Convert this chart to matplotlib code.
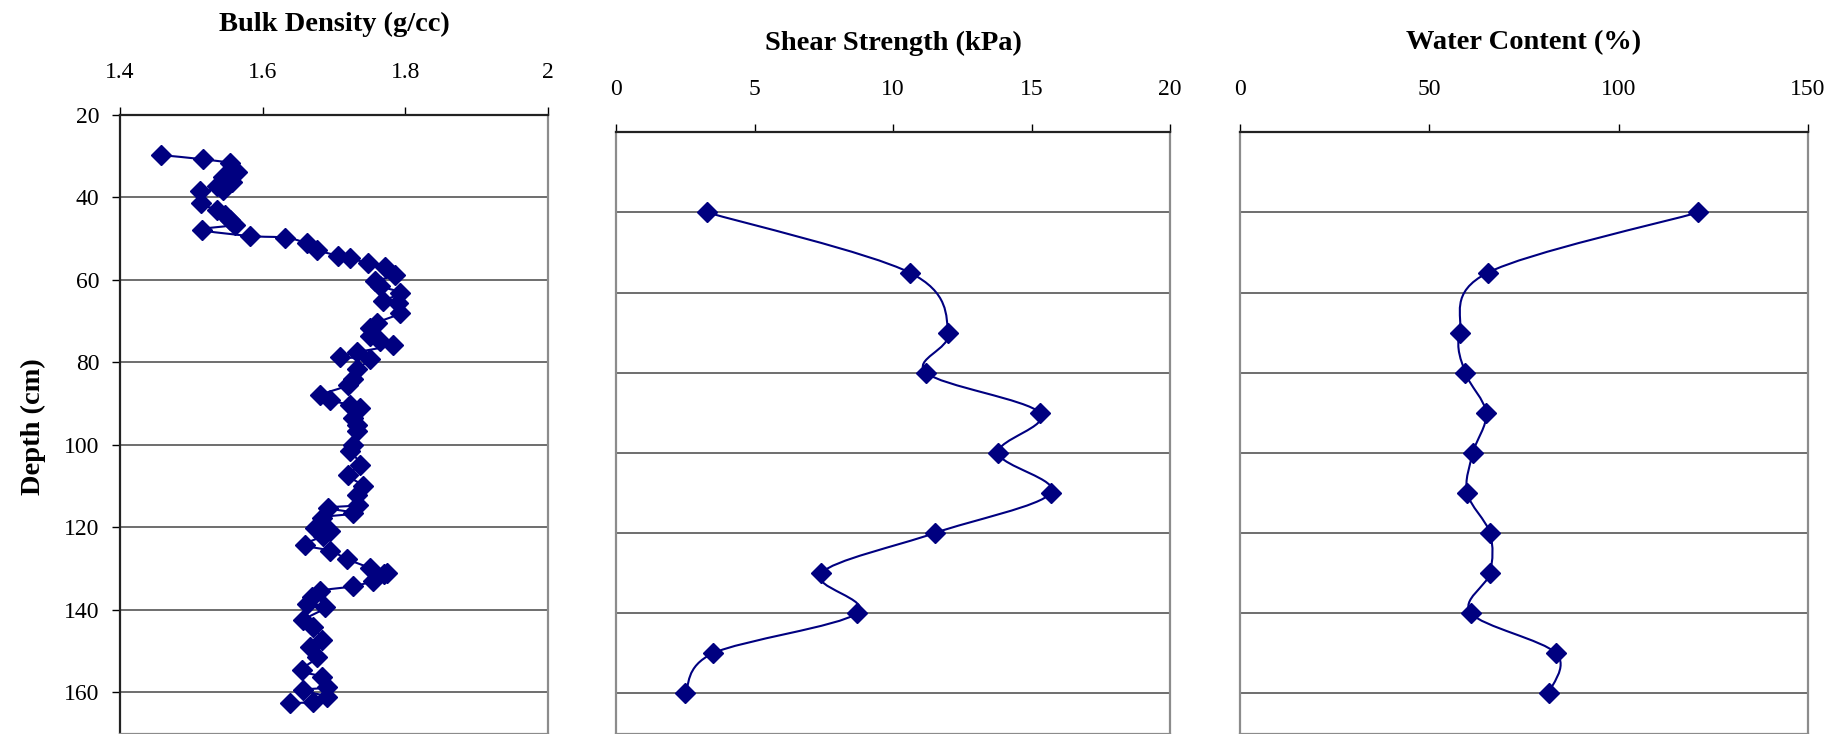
import numpy as np
import matplotlib
matplotlib.use('Agg')
import matplotlib.pyplot as plt
from matplotlib.path import Path
from matplotlib.patches import PathPatch

# bulk density profile (g/cc) vs depth (cm)
bd_depth = [29.8, 30.8, 31.8, 33.8, 35.0, 36.2, 37.4, 38.2, 38.6, 41.5,
            43.1, 44.3, 45.5, 46.7, 47.9, 49.4, 49.8, 51.2, 52.8, 54.2,
            54.8, 56.0, 57.0, 58.8, 60.4, 61.6, 63.2, 65.2, 65.6, 68.0,
            70.4, 71.6, 73.6, 74.8, 75.8, 77.6, 78.8, 79.2, 81.6, 84.0,
            85.6, 88.0, 89.2, 90.4, 91.2, 93.6, 95.2, 96.7, 100.0, 101.6,
            104.8, 107.3, 110.1, 112.1, 114.5, 115.3, 116.6, 117.7, 120.1, 120.9,
            122.1, 124.3, 125.7, 127.7, 129.8, 131.0, 131.4, 133.0, 134.3, 135.4,
            137.0, 138.6, 139.4, 142.6, 144.2, 147.4, 149.0, 151.5, 154.7, 156.3,
            158.7, 159.5, 161.1, 162.3, 162.7]
bd_value = [1.458, 1.516, 1.554, 1.564, 1.545, 1.557, 1.536, 1.545, 1.512, 1.514,
            1.536, 1.547, 1.554, 1.561, 1.515, 1.582, 1.632, 1.662, 1.676, 1.706,
            1.722, 1.748, 1.772, 1.786, 1.758, 1.765, 1.792, 1.769, 1.790, 1.793,
            1.760, 1.750, 1.750, 1.765, 1.783, 1.732, 1.709, 1.750, 1.732, 1.727,
            1.720, 1.681, 1.695, 1.723, 1.737, 1.727, 1.732, 1.732, 1.727, 1.723,
            1.737, 1.720, 1.741, 1.732, 1.734, 1.692, 1.727, 1.683, 1.674, 1.695,
            1.685, 1.660, 1.695, 1.718, 1.750, 1.774, 1.770, 1.755, 1.727, 1.681,
            1.669, 1.662, 1.688, 1.657, 1.671, 1.683, 1.666, 1.676, 1.655, 1.683,
            1.690, 1.657, 1.690, 1.671, 1.638]

# shear strength and water content, sampled every ~10 cm
lab_depth = [40, 55, 70, 80, 90, 100, 110, 120, 130, 140, 150, 160]
shear_kpa = [3.3, 10.6, 12.0, 11.2, 15.3, 13.8, 15.7, 11.5, 7.4, 8.7, 3.5, 2.5]
water_pct = [121, 65.5, 58, 59.5, 65, 61.5, 60, 66, 66, 61, 83.5, 81.5]

depth_ticks = [20, 40, 60, 80, 100, 120, 140, 160]
bd_ticks = [1.4, 1.6, 1.8, 2.0]
bd_labels = ['1.4', '1.6', '1.8', '2']
shear_ticks = [0, 5, 10, 15, 20]
water_ticks = [0, 50, 100, 150]

NAVY = '#000080'
plt.rcParams['font.family'] = ['Liberation Serif', 'DejaVu Serif']

W, H = 1848.0, 734.0


def smooth_path(x, y):
    # smoothed line like a spreadsheet chart: catmull-rom segments as cubic beziers
    pts = np.column_stack([x, y]).astype(float)
    verts = [pts[0]]
    codes = [Path.MOVETO]
    n = len(pts)
    for i in range(n - 1):
        p0 = pts[max(i - 1, 0)]
        p1 = pts[i]
        p2 = pts[i + 1]
        p3 = pts[min(i + 2, n - 1)]
        verts += [p1 + (p2 - p0) / 6.0, p2 - (p3 - p1) / 6.0, p2]
        codes += [Path.CURVE4] * 3
    return Path(verts, codes)


def panel(rect, xvals, yvals, xlim, xticks, xlabels, title, title_y, first):
    left, top, right, bottom = rect
    ax = fig.add_axes([left / W, 1 - bottom / H, (right - left) / W, (bottom - top) / H])
    ax.add_patch(PathPatch(smooth_path(xvals, yvals), fill=False, edgecolor=NAVY, lw=1.5, zorder=3))
    ax.plot(xvals, yvals, linestyle='none', marker='D', markersize=10.5,
            color=NAVY, markeredgecolor=NAVY, zorder=4, clip_on=False)
    ax.set_xlim(*xlim)
    ax.set_ylim(170, 20)
    ax.xaxis.tick_top()
    ax.set_xticks(xticks)
    ax.set_xticklabels(xlabels)
    ax.set_yticks(depth_ticks[1:] if not first else depth_ticks)
    ax.yaxis.grid(True, color='#555555', lw=1.2)
    ax.set_axisbelow(True)
    ax.tick_params(axis='x', direction='out', length=6, width=1, pad=17, labelsize=17, colors='black')
    if first:
        ax.tick_params(axis='y', direction='out', length=6, width=1, pad=9, labelsize=17)
    else:
        ax.tick_params(axis='y', left=False, labelleft=False)
    for side in ['right', 'bottom']:
        ax.spines[side].set_color('#8c8c8c')
        ax.spines[side].set_linewidth(1.6)
    ax.spines['top'].set_color('#222222')
    ax.spines['top'].set_linewidth(1.6)
    ax.spines['left'].set_color('#222222' if first else '#8c8c8c')
    ax.spines['left'].set_linewidth(1.6)
    fig.text((left + right) / 2 / W, 1 - title_y / H, title, ha='center', va='center',
             fontsize=20.5, fontweight='bold')
    return ax


fig = plt.figure(figsize=(W / 100, H / 100), dpi=100)

panel((120, 114.7, 548, 733.5), bd_value, bd_depth, (1.4, 2.0), bd_ticks, bd_labels,
      'Bulk Density (g/cc)', 24, True)
panel((616, 132.3, 1170, 733.5), shear_kpa, lab_depth, (0, 20), shear_ticks,
      [str(t) for t in shear_ticks], 'Shear Strength (kPa)', 43, False)
panel((1240, 132.3, 1808, 733.5), water_pct, lab_depth, (0, 150), water_ticks,
      [str(t) for t in water_ticks], 'Water Content (%)', 43, False)

fig.text(33 / W, 1 - 427 / H, 'Depth (cm)', rotation=90, ha='center', va='center',
         fontsize=20.5, fontweight='bold')

fig.savefig('out.png', dpi=100)
